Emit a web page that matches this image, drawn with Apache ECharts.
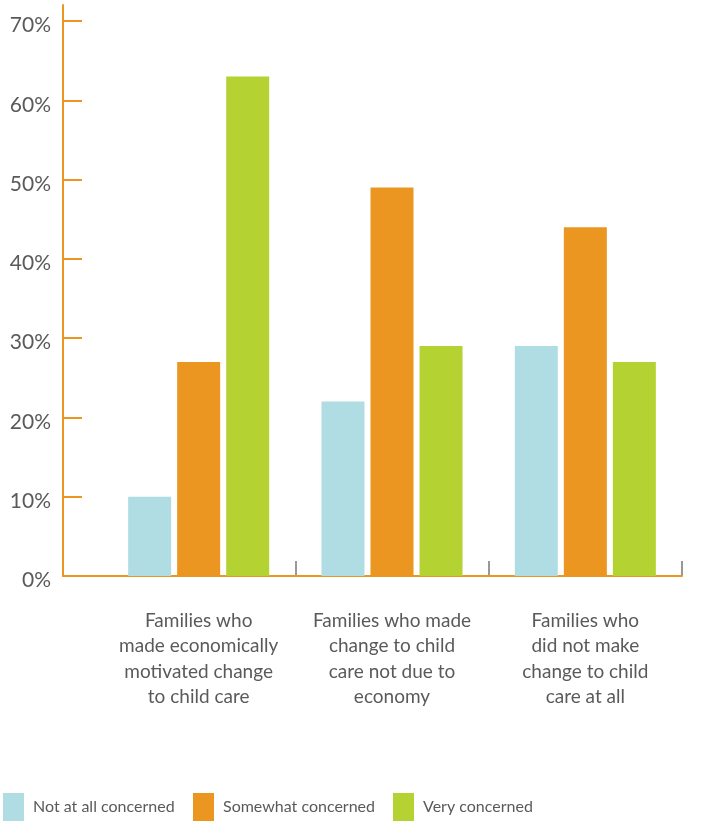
<!DOCTYPE html>
<html>
<head>
<meta charset="utf-8">
<script src="https://cdn.jsdelivr.net/npm/echarts@6/dist/echarts.min.js"></script>
<style>
    html, body { margin: 0; padding: 0; background: #fff; }
    #chart { width: 719px; height: 821px; }
</style>
</head>
<body>
<div id="chart"></div>
<script>
// categories and values (percent)
const categories = [
    'Families who\nmade economically\nmotivated change\nto child care',
    'Families who made\nchange to child\ncare not due to\neconomy',
    'Families who\ndid not make\nchange to child\ncare at all'
];
const notAtAll = [10, 22, 29];
const somewhat = [27, 49, 44];
const very = [63, 29, 27];
const yTicks = [0, 10, 20, 30, 40, 50, 60, 70];

const ORANGE = '#eb9620';
const TEXT = '#5a5a5a';
const FONT = 'Lato';

const chart = echarts.init(document.getElementById('chart'));

function legendItem(name, left) {
    return {
        data: [name],
        left: left,
        top: 793,
        padding: 0,
        icon: 'rect',
        itemWidth: 21,
        itemHeight: 28,
        selectedMode: false,
        textStyle: {
            color: TEXT,
            fontSize: 16,
            fontFamily: FONT,
            padding: [0, 0, 0, 4]
        }
    };
}

function barSeries(name, data, color) {
    return {
        name: name,
        type: 'bar',
        xAxisIndex: 0,
        yAxisIndex: 0,
        barWidth: 43,
        barGap: '14%',
        itemStyle: { color: color },
        data: data
    };
}

// helper for the plain axes of the small helper grids
function bareValueAxis(gridIndex, showLine) {
    return {
        type: 'value',
        gridIndex: gridIndex,
        min: 0,
        max: 1,
        axisLine: { show: showLine, lineStyle: { color: ORANGE, width: 2 } },
        axisTick: { show: false },
        axisLabel: { show: false },
        splitLine: { show: false }
    };
}

chart.setOption({
    animation: false,
    textStyle: { fontFamily: FONT },
    legend: [
        legendItem('Not at all concerned', 3),
        legendItem('Somewhat concerned', 193),
        legendItem('Very concerned', 393)
    ],
    grid: [
        { left: 102, right: 37, top: 21, bottom: 245 },
        // strip that carries the axis lines out to the y axis
        { left: 63, width: 39, top: 5, bottom: 245 },
        // short strip for the grey category separators
        { left: 102, right: 37, top: 561, bottom: 245 }
    ],
    xAxis: [
        {
            type: 'category',
            gridIndex: 0,
            data: categories,
            axisLine: { lineStyle: { color: ORANGE, width: 2 } },
            axisTick: { show: false },
            axisLabel: {
                interval: 0,
                color: TEXT,
                fontSize: 19,
                fontFamily: FONT,
                lineHeight: 25.5,
                margin: 32
            },
            splitLine: { show: false }
        },
        bareValueAxis(1, true),
        {
            type: 'category',
            gridIndex: 2,
            data: categories,
            axisLine: { show: false },
            axisTick: { show: false },
            axisLabel: { show: false },
            splitLine: {
                show: true,
                interval: 0,
                showMinLine: false,
                showMaxLine: true,
                lineStyle: { color: '#97979c', width: 2 }
            }
        }
    ],
    yAxis: [
        {
            type: 'value',
            gridIndex: 0,
            min: yTicks[0],
            max: yTicks[yTicks.length - 1],
            interval: 10,
            offset: 39,
            axisLine: { show: false },
            axisTick: {
                show: true,
                inside: true,
                length: 19,
                lineStyle: { color: ORANGE, width: 2 }
            },
            axisLabel: {
                color: TEXT,
                fontSize: 21,
                fontFamily: FONT,
                margin: 12,
                verticalAlign: 'top',
                lineHeight: 9,
                formatter: '{value}%'
            },
            splitLine: { show: false }
        },
        bareValueAxis(1, true),
        bareValueAxis(2, false)
    ],
    series: [
        barSeries('Not at all concerned', notAtAll, '#b0dde3'),
        barSeries('Somewhat concerned', somewhat, ORANGE),
        barSeries('Very concerned', very, '#b4d333')
    ]
});
</script>
</body>
</html>
